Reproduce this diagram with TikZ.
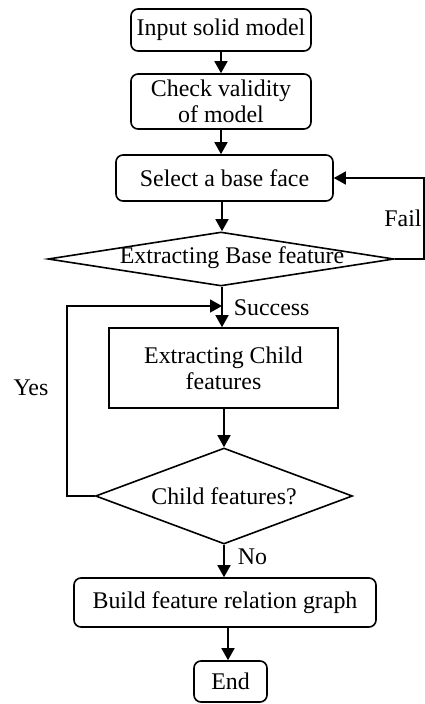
\documentclass[tikz,border=0pt]{standalone}
\usepackage{fontspec}
\setmainfont{Liberation Serif}
\usetikzlibrary{shapes.geometric,arrows.meta}
\begin{document}
\begin{tikzpicture}[x=1pt,y=-1pt,
  font=\fontsize{23.9}{26}\selectfont,
  every path/.style={line width=1.6pt},
  rbox/.style={draw,rounded corners=7pt,inner sep=0pt,align=center},
  sbox/.style={draw,inner sep=0pt,align=center},
  dbox/.style={draw,diamond,inner sep=0pt},
  arr/.style={-{Triangle[length=12pt,width=13pt]}},
  lbl/.style={inner sep=0pt}]
\useasboundingbox (0,0) rectangle (425,704);
\node[rbox,minimum width=180pt,minimum height=42pt] (n1) at (221,30) {Input solid model};
\node[rbox,minimum width=180pt,minimum height=55pt] (n2) at (221,101.5) {Check validity\\of model};
\node[rbox,minimum width=217pt,minimum height=46pt] (n3) at (224.5,178) {Select a base face};
\node[dbox,minimum width=346pt,minimum height=54pt] (d1) at (221,259) {};
\node[lbl] (t1) at (232,258) {Extracting Base feature};
\node[sbox,minimum width=229pt,minimum height=80pt] (n4) at (223.5,368) {Extracting Child\\features};
\node[dbox,minimum width=257pt,minimum height=96pt] (d2) at (224,496) {};
\node[lbl] (t2) at (d2) {Child features?};
\node[rbox,minimum width=302pt,minimum height=49pt] (n5) at (225,602.5) {Build feature relation graph};
\node[rbox,minimum width=73pt,minimum height=41pt] (n6) at (230.5,681.5) {End};
\coordinate (fr) at (424,259);
\coordinate (yl) at (67,306);
\coordinate (m1) at (222,306);
\node[lbl] (fail) at (403,218) {Fail};
\node[lbl,anchor=west] (succ) at (233,308) {Success};
\node[lbl] (yes) at (31,388) {Yes};
\node[lbl,anchor=west] (no) at (237,557) {No};
\draw[arr] (n1.south) -- (n1.south |- n2.north);
\draw[arr] (n2.south) -- (n2.south |- n3.north);
\draw[arr] (n3.south -| m1) -- (d1.north -| m1);
\draw[arr] (d1.south -| m1) -- (n4.north -| m1);
\draw[arr] (d1.east) -- (fr) |- (n3.east);
\draw[arr] (d2.west) -| (yl) -- (m1);
\draw[arr] (n4.south -| d2.north) -- (d2.north);
\draw[arr] (d2.south) -- (d2.south |- n5.north);
\draw[arr] (n5.south -| 228,0) -- (n6.north -| 228,0);
\end{tikzpicture}
\end{document}
